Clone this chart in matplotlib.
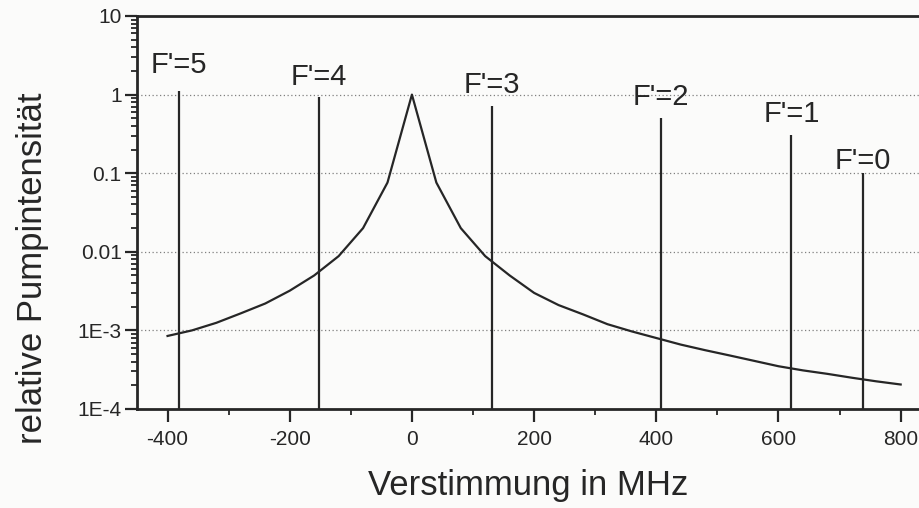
import matplotlib
matplotlib.use('Agg')
import matplotlib.pyplot as plt
from matplotlib.ticker import LogLocator, FixedLocator, FixedFormatter, NullFormatter

plt.rcParams['font.family'] = ['Liberation Sans', 'DejaVu Sans']
plt.rcParams['axes.unicode_minus'] = False

# pump intensity profile (MHz, relative)
detuning = [-400, -360, -320, -280, -240, -200, -160, -120, -80, -40, 0,
            40, 80, 120, 160, 200, 240, 280, 320, 360, 400,
            440, 480, 520, 560, 600, 640, 680, 720, 760, 800]
intensity = [8.5e-4, 1.0e-3, 1.25e-3, 1.65e-3, 2.2e-3, 3.2e-3, 5.0e-3, 8.8e-3, 0.020, 0.076, 1.0,
             0.076, 0.020, 8.8e-3, 5.0e-3, 3.0e-3, 2.1e-3, 1.6e-3, 1.2e-3, 9.7e-4, 8.0e-4,
             6.6e-4, 5.6e-4, 4.8e-4, 4.1e-4, 3.5e-4, 3.1e-4, 2.8e-4, 2.5e-4, 2.25e-4, 2.05e-4]

# hyperfine components F'
line_names = ["F'=5", "F'=4", "F'=3", "F'=2", "F'=1", "F'=0"]
line_pos = [-382, -152, 131, 408, 621, 738]
line_height = [1.1, 0.92, 0.72, 0.51, 0.31, 0.10]

ytick_vals = [1e-4, 1e-3, 1e-2, 1e-1, 1, 10]
ytick_labels = ['1E-4', '1E-3', '0.01', '0.1', '1', '10']
xtick_vals = [-400, -200, 0, 200, 400, 600, 800]

ink = '#262626'
# gap between line top and its label, in points
label_gap = [9, 5, 5, 5, 5, -1]

fig = plt.figure(figsize=(9.19, 5.08), dpi=100, facecolor='#fbfbfa')
ax = fig.add_axes([137/919, 99/508, 782/919, 393/508])
ax.set_facecolor('#fbfbfa')

ax.set_yscale('log')
ax.set_xlim(-450, 830)
ax.set_ylim(1e-4, 10)

for y in ytick_vals[1:-1]:
    ax.axhline(y, color='#808080', lw=0.9, ls=(0, (1, 2)), zorder=1)

ax.plot(detuning, intensity, color=ink, lw=1.6, zorder=3)
ax.vlines(line_pos, 1e-4, line_height, color=ink, lw=1.6, zorder=3)

for name, x, h, gap in zip(line_names, line_pos, line_height, label_gap):
    ax.annotate(name, (x, h), xytext=(0, gap), textcoords='offset points',
                ha='center', va='bottom', fontsize=21, color=ink, zorder=4)

ax.yaxis.set_major_locator(FixedLocator(ytick_vals))
ax.yaxis.set_major_formatter(FixedFormatter(ytick_labels))
ax.yaxis.set_minor_locator(LogLocator(base=10, subs=range(2, 10)))
ax.yaxis.set_minor_formatter(NullFormatter())
ax.xaxis.set_major_locator(FixedLocator(xtick_vals))
ax.xaxis.set_minor_locator(FixedLocator([-300, -100, 100, 300, 500, 700]))

ax.tick_params(which='major', direction='out', length=9, width=1.6, color=ink,
               labelsize=15, labelcolor=ink)
ax.tick_params(axis='y', which='major', pad=2)
ax.tick_params(axis='x', which='major', pad=6)
ax.tick_params(which='minor', direction='out', length=4.5, width=1.3, color=ink)

for side in ['left', 'bottom', 'top']:
    ax.spines[side].set_linewidth(2)
    ax.spines[side].set_color(ink)
ax.spines['right'].set_visible(False)

fig.text(528/919, 1 - 485/508, 'Verstimmung in MHz', ha='center', va='center',
         fontsize=25, color=ink)
fig.text(33/919, 1 - 268/508, 'relative Pumpintensität', ha='center', va='center',
         rotation=90, fontsize=25, color=ink)

fig.savefig('out.png', dpi=100, facecolor=fig.get_facecolor())
